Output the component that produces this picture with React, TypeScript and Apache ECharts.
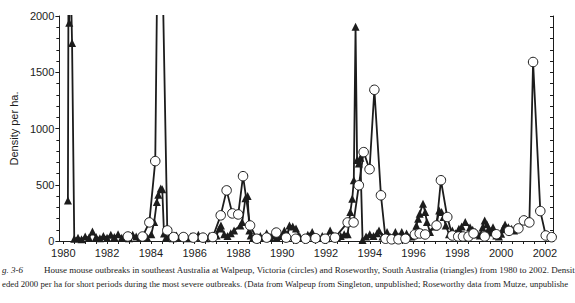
import React, { useEffect, useRef } from "react";
import * as echarts from "echarts";

const xLabelYears = [1980, 1982, 1984, 1986, 1988, 1990, 1992, 1994, 1996, 1998, 2000, 2002];
const yLabelValues = [0, 500, 1000, 1500, 2000];
const yAxisTitle = "Density per ha.";
const captionFig = "g. 3-6";
const captionLine1 =
  "House mouse outbreaks in southeast Australia at Walpeup, Victoria (circles) and Roseworthy, South Australia (triangles) from 1980 to 2002. Densit";
const captionLine2 =
  "eded 2000 per ha for short periods during the most severe outbreaks. (Data from Walpeup from Singleton, unpublished; Roseworthy data from Mutze, unpublishe";

// Walpeup, Victoria (circles): [year, density per ha]
const walpeup: [number, number][] = [
  [1982.95, 40], [1983.62, 40], [1983.93, 165], [1984.2, 710], [1984.38, 4000], [1984.75, 94],
  [1985.04, 35], [1985.49, 35], [1985.94, 30], [1986.38, 30], [1986.83, 35], [1987.19, 228],
  [1987.46, 450], [1987.72, 245], [1987.99, 236], [1988.21, 576], [1988.53, 138], [1988.84, 20],
  [1989.29, 30], [1989.73, 75], [1990.18, 30], [1990.62, 20], [1991.07, 20], [1991.52, 25],
  [1991.96, 20], [1992.41, 30], [1992.99, 165], [1993.26, 165], [1993.5, 495], [1993.72, 790],
  [1993.99, 638], [1994.21, 1344], [1994.51, 406], [1994.72, 20], [1995.0, 15], [1995.31, 15],
  [1995.63, 20], [1996.06, 58], [1996.28, 67], [1996.53, 58], [1997.05, 138], [1997.25, 540],
  [1997.54, 213], [1997.77, 49], [1998.04, 40], [1998.26, 40], [1998.51, 40], [1998.74, 67],
  [1999.25, 40], [1999.78, 60], [2000.36, 90], [2000.79, 112], [2001.04, 183], [2001.29, 165],
  [2001.46, 1591], [2001.79, 266], [2002.04, 49], [2002.31, 34],
];

// Roseworthy, South Australia (triangles): [year, density per ha]
const roseworthy: [number, number][] = [
  [1980.21, 360], [1980.24, 2600], [1980.27, 1940], [1980.32, 2500], [1980.4, 1760], [1980.5, 20],
  [1980.67, 30], [1980.83, 15], [1981.0, 40], [1981.17, 30], [1981.33, 85], [1981.5, 35],
  [1981.67, 25], [1981.83, 45], [1982.0, 30], [1982.17, 55], [1982.33, 35], [1982.5, 60],
  [1982.67, 30], [1982.83, 45], [1983.0, 25], [1983.17, 55], [1983.33, 40], [1983.5, 30],
  [1983.67, 45], [1983.83, 30], [1984.02, 60], [1984.15, 168], [1984.27, 346], [1984.34, 412],
  [1984.45, 466], [1984.52, 460], [1984.6, 67], [1984.69, 30], [1984.83, 40], [1985.0, 25],
  [1985.17, 50], [1985.33, 30], [1985.5, 45], [1985.67, 25], [1985.83, 40], [1986.0, 30],
  [1986.17, 55], [1986.33, 35], [1986.5, 25], [1986.67, 45], [1986.83, 30], [1987.0, 50],
  [1987.13, 112], [1987.2, 138], [1987.35, 60], [1987.5, 45], [1987.65, 70], [1987.8, 94],
  [1988.09, 138], [1988.17, 168], [1988.32, 380], [1988.42, 400], [1988.5, 94], [1988.56, 49],
  [1988.67, 30], [1988.83, 20], [1989.0, 45], [1989.17, 30], [1989.29, 70], [1989.45, 35],
  [1989.6, 50], [1989.75, 30], [1989.92, 45], [1990.1, 94], [1990.25, 60], [1990.33, 138],
  [1990.48, 129], [1990.63, 112], [1990.8, 40], [1991.0, 30], [1991.17, 55], [1991.37, 80],
  [1991.52, 35], [1991.67, 30], [1991.83, 45], [1992.0, 25], [1992.19, 94], [1992.33, 50],
  [1992.5, 35], [1992.67, 45], [1992.83, 60], [1992.99, 60], [1993.11, 257], [1993.2, 376],
  [1993.27, 540], [1993.35, 1904], [1993.42, 720], [1993.5, 690], [1993.57, 740], [1993.67, 10],
  [1993.83, 40], [1994.0, 60], [1994.17, 45], [1994.33, 70], [1994.42, 94], [1994.58, 40],
  [1994.79, 80], [1994.95, 35], [1995.17, 80], [1995.33, 40], [1995.46, 80], [1995.6, 30],
  [1995.68, 67], [1995.9, 40], [1996.13, 138], [1996.21, 198], [1996.28, 243], [1996.43, 332],
  [1996.53, 257], [1996.61, 168], [1996.75, 80], [1996.95, 129], [1997.07, 168], [1997.17, 272],
  [1997.28, 257], [1997.37, 213], [1997.47, 138], [1997.62, 60], [1997.77, 94], [1997.92, 70],
  [1998.07, 109], [1998.2, 130], [1998.36, 168], [1998.58, 123], [1998.7, 100], [1998.81, 80],
  [1998.92, 60], [1999.03, 49], [1999.15, 120], [1999.25, 183], [1999.35, 150], [1999.43, 109],
  [1999.53, 90], [1999.63, 123], [1999.78, 49], [1999.9, 40], [2000.0, 64], [2000.08, 110],
  [2000.18, 147], [2000.33, 123], [2000.48, 109], [2000.59, 94],
];

const ink = "#1c1c1c";

export default function App() {
  const ref = useRef<HTMLDivElement>(null);

  useEffect(() => {
    document.body.style.margin = "0";
    const chart = echarts.init(ref.current!, undefined, { renderer: "svg" });
    const halfYearTicks = xLabelYears
      .slice(0, -1)
      .flatMap((y) => [y, y + 0.5, y + 1, y + 1.5])
      .concat([xLabelYears[xLabelYears.length - 1]]);
    const xMin = 1979.82;
    const xMax = 2002.37;
    const axisFont = { fontFamily: "Liberation Sans, Arial, sans-serif", fontSize: 11, color: ink };
    const captionFont = "9px 'Liberation Serif', serif";
    const captionFont2 = "8.75px 'Liberation Serif', serif";

    chart.setOption({
      animation: false,
      backgroundColor: "#ffffff",
      grid: { left: 48, right: 22, top: 16, bottom: 62, containLabel: false },
      xAxis: [
        {
          type: "value",
          min: xMin,
          max: xMax,
          position: "bottom",
          axisLine: { show: true, lineStyle: { color: ink, width: 1 } },
          axisTick: { show: true, inside: false, length: 3, customValues: halfYearTicks, lineStyle: { color: ink } },
          axisLabel: { ...axisFont, margin: 6, customValues: xLabelYears, formatter: (v: number) => String(Math.round(v)) },
          splitLine: { show: false },
        },
        {
          type: "value",
          min: xMin,
          max: xMax,
          position: "top",
          axisLine: { show: true, lineStyle: { color: ink, width: 1 } },
          axisTick: { show: true, inside: true, length: 3, customValues: halfYearTicks, lineStyle: { color: ink } },
          axisLabel: { show: false },
          splitLine: { show: false },
        },
      ],
      yAxis: [
        {
          type: "value",
          min: 0,
          max: 2000,
          interval: 500,
          position: "left",
          name: yAxisTitle,
          nameLocation: "middle",
          nameRotate: 90,
          nameGap: 29,
          nameTextStyle: { ...axisFont, fontSize: 11 },
          axisLine: { show: true, lineStyle: { color: ink, width: 1 } },
          axisTick: { show: true, inside: false, length: 4, lineStyle: { color: ink } },
          minorTick: { show: true, splitNumber: 5, length: 3, lineStyle: { color: ink } },
          axisLabel: {
            ...axisFont,
            margin: 5,
            customValues: yLabelValues,
            formatter: (v: number) => String(Math.round(v)),
          },
          splitLine: { show: false },
          minorSplitLine: { show: false },
        },
        {
          type: "value",
          min: 0,
          max: 2000,
          interval: 100,
          position: "right",
          axisLine: { show: true, lineStyle: { color: ink, width: 1 } },
          axisTick: { show: true, inside: true, length: 3, lineStyle: { color: ink } },
          axisLabel: { show: false },
          splitLine: { show: false },
        },
      ],
      series: [
        {
          name: "Roseworthy",
          type: "line",
          data: roseworthy,
          xAxisIndex: 0,
          yAxisIndex: 0,
          symbol: "triangle",
          symbolSize: 8,
          showAllSymbol: true,
          clip: true,
          lineStyle: { color: ink, width: 1.8 },
          itemStyle: { color: ink, borderColor: ink, borderWidth: 0 },
          z: 2,
        },
        {
          name: "Walpeup",
          type: "line",
          data: walpeup,
          xAxisIndex: 0,
          yAxisIndex: 0,
          symbol: "circle",
          symbolSize: 9.5,
          showAllSymbol: true,
          clip: true,
          lineStyle: { color: ink, width: 1.8 },
          itemStyle: { color: "#ffffff", borderColor: ink, borderWidth: 1 },
          z: 3,
        },
      ],
      graphic: [
        {
          type: "text",
          left: 2,
          top: 265,
          style: { text: captionFig, font: "italic " + captionFont, fill: "#222" },
        },
        {
          type: "text",
          left: 44,
          top: 265,
          style: { text: captionLine1, font: captionFont, fill: "#222" },
        },
        {
          type: "text",
          left: 2,
          top: 279,
          style: { text: captionLine2, font: captionFont2, fill: "#222" },
        },
      ],
    });

    return () => chart.dispose();
  }, []);

  return <div ref={ref} style={{ width: 575, height: 303 }} />;
}
